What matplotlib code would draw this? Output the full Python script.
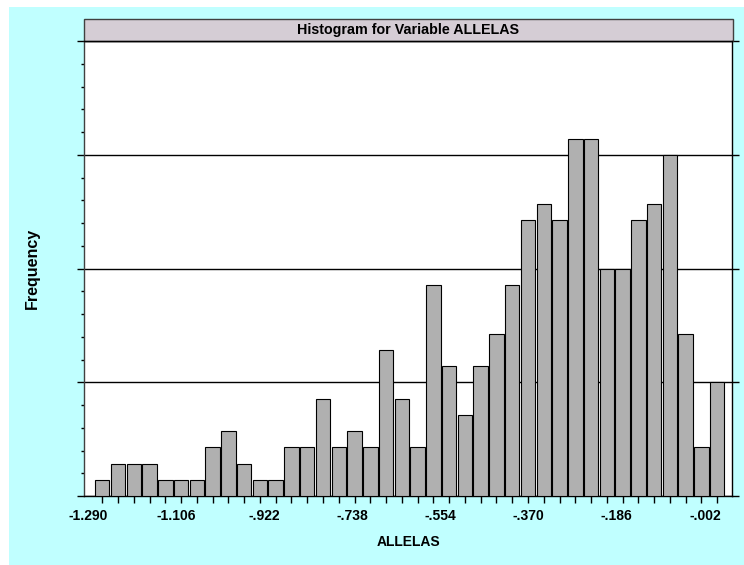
import numpy as np
import matplotlib
matplotlib.use("Agg")
import matplotlib.pyplot as plt
from matplotlib.patches import Rectangle
from matplotlib.ticker import MultipleLocator

plt.rcParams['font.family'] = ['Liberation Sans', 'DejaVu Sans']

# bin counts, left to right
counts = [1, 2, 2, 2, 1, 1, 1, 3, 4, 2,
          1, 1, 3, 3, 6, 3, 4, 3, 9, 6,
          3, 13, 8, 5, 8, 10, 13, 17, 18, 17,
          22, 22, 14, 14, 17, 18, 21, 10, 3, 7]
bin_lo = -1.2768
bin_w = 0.03292
tick_vals = [-1.290, -1.106, -0.922, -0.738, -0.554, -0.370, -0.186, -0.002]
tick_labels = ['-1.290', '-1.106', '-.922', '-.738', '-.554', '-.370', '-.186', '-.002']

W, H = 744, 565
fig = plt.figure(figsize=(W / 100, H / 100), dpi=100, facecolor='white')
# cyan backdrop
fig.patches.append(Rectangle((9 / W, 0), 1, 1 - 7 / H, transform=fig.transFigure,
                             facecolor='#c0ffff', edgecolor='none', zorder=-10))

ax = fig.add_axes([84 / W, 1 - 496 / H, (732 - 84) / W, (496 - 41) / H])
ax.set_facecolor('white')

edges = bin_lo + bin_w * np.arange(len(counts))
centers = edges + bin_w / 2
ax.bar(centers, counts, width=bin_w * 0.92, color='#b0b0b0', edgecolor='black',
       linewidth=0.8, zorder=3)

ax.set_xlim(-1.2984, 0.0544)
ax.set_ylim(0, 28)

# y axis: no labels, major every 7, minor every 1.4
ax.yaxis.set_major_locator(MultipleLocator(7))
ax.yaxis.set_minor_locator(MultipleLocator(1.4))
ax.tick_params(axis='y', which='major', length=5, width=1, labelleft=False,
               right=True, direction='out')
ax.tick_params(axis='y', which='minor', length=2.5, width=1, direction='out')
ax.grid(axis='y', which='major', color='black', linewidth=1, zorder=1)

# x axis: small ticks at bar centres, labels between
ax.set_xticks(tick_vals)
ax.set_xticklabels(tick_labels, fontsize=10, fontweight='bold')
ax.set_xticks(centers, minor=True)
ax.tick_params(axis='x', which='major', length=0, pad=9)
ax.tick_params(axis='x', which='minor', length=5, width=1, direction='out')
ax.set_axisbelow(True)

for s in ax.spines.values():
    s.set_linewidth(1)
    s.set_color('black')
ax.spines['left'].set_color('#404040')

ax.set_xlabel('ALLELAS', fontsize=10, fontweight='bold', labelpad=9)
ax.set_ylabel('Frequency', fontsize=11.5, fontweight='bold', labelpad=26)

# title bar
bar_h = 22 / (496 - 41)
ax.add_patch(Rectangle((0, 1), 1.0015, bar_h, transform=ax.transAxes, clip_on=False,
                       facecolor='#d5cdd5', edgecolor='#404040', linewidth=1))
ax.text(0.5, 1 + bar_h / 2, 'Histogram for Variable ALLELAS', transform=ax.transAxes,
        ha='center', va='center', fontsize=10.3, fontweight='bold')

fig.savefig('out.png', dpi=100, facecolor=fig.get_facecolor())
